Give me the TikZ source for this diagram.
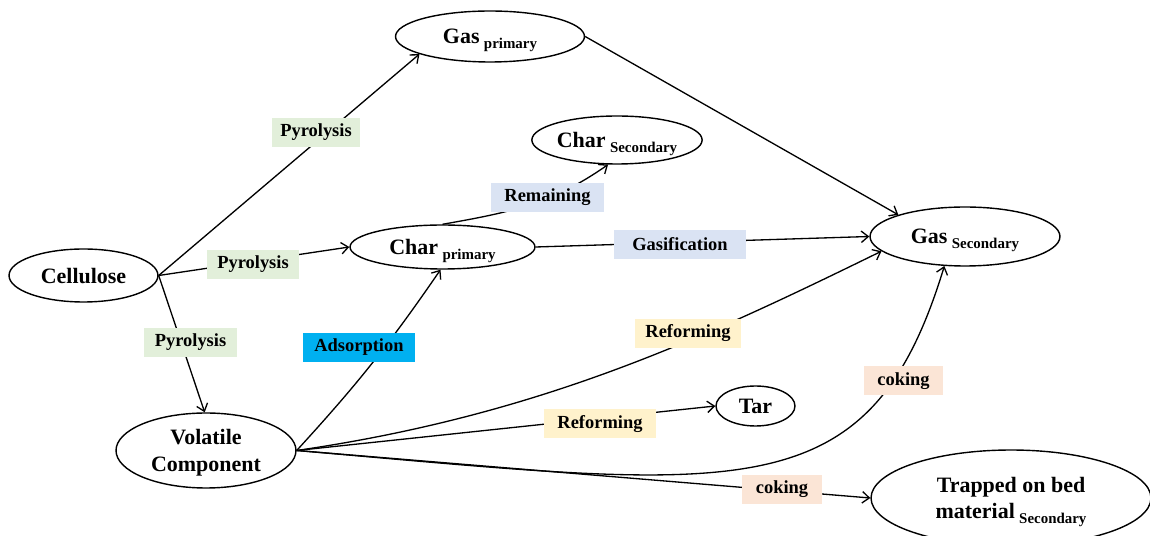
\documentclass[tikz,border=0pt]{standalone}
\usepackage{fontspec}
\setmainfont{Liberation Serif}
\usetikzlibrary{shapes.geometric,arrows.meta}
\definecolor{pyrgreen}{HTML}{E2EFDA}
\definecolor{charblue}{HTML}{DAE3F3}
\definecolor{adscyan}{HTML}{00B0F0}
\definecolor{refyellow}{HTML}{FFF2CC}
\definecolor{cokepeach}{HTML}{FBE5D6}
\newcommand{\lowtxt}[1]{\kern2.5pt\raisebox{-0.45ex}{\fontsize{8.5}{10}\selectfont #1}}
\tikzset{
  species/.style={draw,ellipse,line width=0.8pt,inner sep=0pt,align=center,text depth=0pt,font=\fontsize{12.5}{15}\selectfont\bfseries},
  reaction/.style={inner sep=0pt,minimum height=0.58cm,font=\fontsize{10.5}{12}\selectfont\bfseries},
  conv/.style={-{Straight Barb[length=4pt,width=6.5pt]},line width=0.75pt}
}
\begin{document}
\begin{tikzpicture}[x=0.02cm,y=-0.02cm]
\useasboundingbox (0,0) rectangle (1150,536);
\node[species,minimum width=2.98cm,minimum height=1.06cm] (cel) at (83.5,275.5) {Cellulose};
\node[species,minimum width=3.78cm,minimum height=1.02cm] (gp) at (490,36.5) {Gas\lowtxt{primary}};
\node[species,minimum width=3.4cm,minimum height=0.96cm] (cs) at (617,140) {Char\lowtxt{Secondary}};
\node[species,minimum width=3.7cm,minimum height=0.88cm] (cp) at (442.5,247) {Char\lowtxt{primary}};
\node[species,minimum width=3.8cm,minimum height=1.18cm] (gs) at (965,236.5) {Gas\lowtxt{Secondary}};
\node[species,minimum width=3.6cm,minimum height=1.5cm] (vol) at (206,450.5) {Volatile\\Component};
\node[species,minimum width=1.58cm,minimum height=0.8cm] (tar) at (755.5,406) {Tar};
\node[species,minimum width=5.6cm,minimum height=1.92cm] (trap) at (1011,498) {Trapped on bed\\material\lowtxt{Secondary}};
\draw[conv] (cel.east) -- (gp.194);
\draw[conv] (cel.east) -- (cp.west);
\draw[conv] (cel.east) -- (vol.92);
\draw[conv] (gp.east) -- (gs.162);
\draw[conv] (cp.north) to[out=10,in=215] (cs.250);
\draw[conv] (cp.east) -- (gs.west);
\draw[conv] (vol.east) to[bend right=4] (cp.265);
\draw[conv] (vol.east) .. controls (541,415) and (704,338) .. (gs.190);
\draw[conv] (vol.east) -- (tar.west);
\draw[conv] (vol.east) .. controls (741,489) and (869,514) .. (gs.235);
\draw[conv] (vol.east) -- (trap.west);
\node[reaction,fill=pyrgreen,minimum width=1.76cm] (pyra) at (316,132.5) {Pyrolysis};
\node[reaction,fill=pyrgreen,minimum width=1.84cm] (pyrb) at (253,264.5) {Pyrolysis};
\node[reaction,fill=pyrgreen,minimum width=1.86cm] (pyrc) at (190.5,342.5) {Pyrolysis};
\node[reaction,fill=charblue,minimum width=2.26cm] (remain) at (547.5,197.5) {Remaining};
\node[reaction,fill=charblue,minimum width=2.64cm] (gasif) at (680,244.5) {Gasification};
\node[reaction,fill=adscyan,minimum width=2.24cm] (adsorb) at (359,347.5) {Adsorption};
\node[reaction,fill=refyellow,minimum width=2.12cm] (refa) at (688,333.5) {Reforming};
\node[reaction,fill=refyellow,minimum width=2.24cm] (refb) at (600,424) {Reforming};
\node[reaction,fill=cokepeach,minimum width=1.58cm] (coka) at (903.5,381) {coking};
\node[reaction,fill=cokepeach,minimum width=1.6cm] (cokb) at (782,489.5) {coking};
\end{tikzpicture}
\end{document}
